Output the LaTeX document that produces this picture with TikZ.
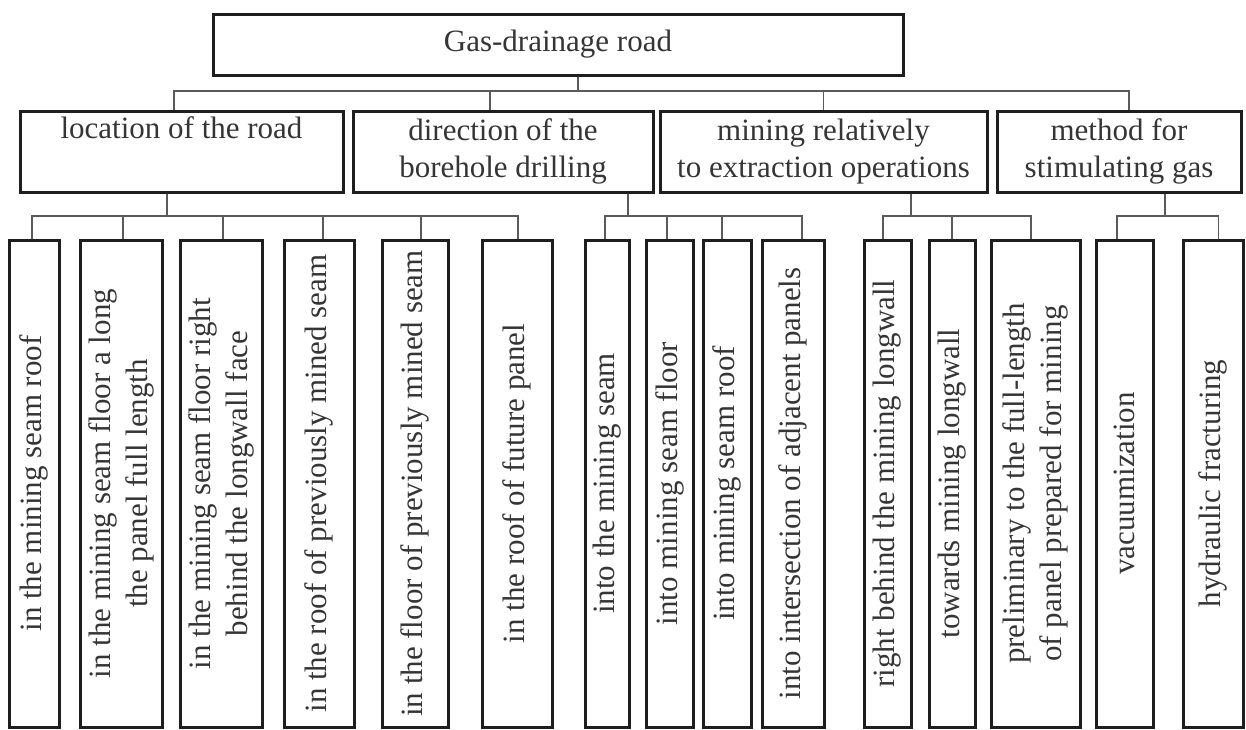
\documentclass[tikz,border=0pt]{standalone}
\usepackage{fontspec}
\setmainfont{Liberation Serif}
\definecolor{ink}{HTML}{1E1E1E}
\definecolor{wire}{HTML}{5A5A5A}
\tikzset{
  box/.style={draw=ink, line width=1.5pt, align=center, inner sep=0pt, text=ink!90,
              font=\fontsize{15.5}{18.5}\selectfont},
  leaf/.style={box, rotate=90, minimum width=243.5pt, minimum height=#1},
  leaf/.default=30pt,
  conn/.style={draw=wire, line width=0.9pt},
}

\begin{document}
\begin{tikzpicture}[x=0.5pt, y=-0.5pt]
        \useasboundingbox (0,0) rectangle (1246,729);
        % top level
        \node[box, minimum width=345pt, minimum height=30.5pt] (root) at (558,44.5) {Gas-drainage road};
        % second level
        \node[box, minimum width=161.5pt, minimum height=40.5pt] (loc) at (181.5,151.5) {location of the road\\\strut};
        \node[box, minimum width=150pt, minimum height=40.5pt] (dir) at (503,151.5) {direction of the\\borehole drilling};
        \node[box, minimum width=163.5pt, minimum height=40.5pt] (rel) at (823.5,151.5) {mining relatively\\to extraction operations};
        \node[box, minimum width=122pt, minimum height=40.5pt] (meth) at (1119,151.5) {method for\\stimulating gas};
        % leaves
        \node[leaf=25pt] (a1) at (34,483.5) {in the mining seam roof};
        \node[leaf=41pt] (a2) at (121,483.5) {in the mining seam floor a long\\the panel full length};
        \node[leaf=41pt] (a3) at (221,483.5) {in the mining seam floor right\\behind the longwall face};
        \node[leaf=35pt] (a4) at (319,483.5) {in the roof of previously mined seam};
        \node[leaf=33pt] (a5) at (415,483.5) {in the floor of previously mined seam};
        \node[leaf=35pt] (a6) at (517,483.5) {in the roof of future panel};
        \node[leaf=22pt] (b1) at (607,483.5) {into the mining seam};
        \node[leaf=23.5pt] (b2) at (669.5,483.5) {into mining seam floor};
        \node[leaf=24pt] (b3) at (727,483.5) {into mining seam roof};
        \node[leaf=31pt] (b4) at (793,483.5) {into intersection of adjacent panels};
        \node[leaf=23.5pt] (c1) at (887.5,483.5) {right behind the mining longwall};
        \node[leaf=23pt] (c2) at (952,483.5) {towards mining longwall};
        \node[leaf=44.5pt] (c3) at (1035.5,483.5) {preliminary to the full-length\\of panel prepared for mining};
        \node[leaf=28.5pt] (d1) at (1124.5,483.5) {vacuumization};
        \node[leaf=30pt] (d2) at (1213,483.5) {hydraulic fracturing};
        % bus lines
        \coordinate (bus1) at (0,91);
        \coordinate (bus2) at (0,216);
        \draw[conn] ([xshift=10pt]root.south) |- ([xshift=-3.75pt]loc.north |- bus1) -- ([xshift=-3.75pt]loc.north);
        \draw[conn] ([xshift=10pt]root.south) |- ([xshift=-6.5pt]dir.north |- bus1) -- ([xshift=-6.5pt]dir.north);
        \draw[conn] ([xshift=10pt]root.south) |- (rel.north |- bus1) -- (rel.north);
        \draw[conn] ([xshift=10pt]root.south) |- ([xshift=5pt]meth.north |- bus1) -- ([xshift=5pt]meth.north);
        % location of the road
        \draw[conn] ([xshift=-7.25pt]loc.south) |- ([xshift=-1pt]a1.east |- bus2) -- ([xshift=-1pt]a1.east);
        \draw[conn] ([xshift=-7.25pt]loc.south) |- ([xshift=1pt]a2.east |- bus2) -- ([xshift=1pt]a2.east);
        \draw[conn] ([xshift=-7.25pt]loc.south) |- ([xshift=1pt]a3.east |- bus2) -- ([xshift=1pt]a3.east);
        \draw[conn] ([xshift=-7.25pt]loc.south) |- ([xshift=2pt]a4.east |- bus2) -- ([xshift=2pt]a4.east);
        \draw[conn] ([xshift=-7.25pt]loc.south) |- ([xshift=3pt]a5.east |- bus2) -- ([xshift=3pt]a5.east);
        \draw[conn] ([xshift=-7.25pt]loc.south) |- ([xshift=0.5pt]a6.east |- bus2) -- ([xshift=0.5pt]a6.east);
        % direction of the borehole drilling
        \draw[conn] ([xshift=62.5pt]dir.south) |- ([xshift=-1pt]b1.east |- bus2) -- ([xshift=-1pt]b1.east);
        \draw[conn] ([xshift=62.5pt]dir.south) |- ([xshift=-1.25pt]b2.east |- bus2) -- ([xshift=-1.25pt]b2.east);
        \draw[conn] ([xshift=62.5pt]dir.south) |- ([xshift=-2.5pt]b3.east |- bus2) -- ([xshift=-2.5pt]b3.east);
        \draw[conn] ([xshift=62.5pt]dir.south) |- ([xshift=4.5pt]b4.east |- bus2) -- ([xshift=4.5pt]b4.east);
        % mining relatively to extraction operations
        \draw[conn] ([xshift=43.75pt]rel.south) |- ([xshift=-2.25pt]c1.east |- bus2) -- ([xshift=-2.25pt]c1.east);
        \draw[conn] ([xshift=43.75pt]rel.south) |- (c2.east |- bus2) -- (c2.east);
        \draw[conn] ([xshift=43.75pt]rel.south) |- ([xshift=-2.25pt]c3.east |- bus2) -- ([xshift=-2.25pt]c3.east);
        % method for stimulating gas
        \draw[conn] ([xshift=23pt]meth.south) |- ([xshift=-3.75pt]d1.east |- bus2) -- ([xshift=-3.75pt]d1.east);
        \draw[conn] ([xshift=23pt]meth.south) |- ([xshift=2.75pt]d2.east |- bus2) -- ([xshift=2.75pt]d2.east);
      \end{tikzpicture}
\end{document}
